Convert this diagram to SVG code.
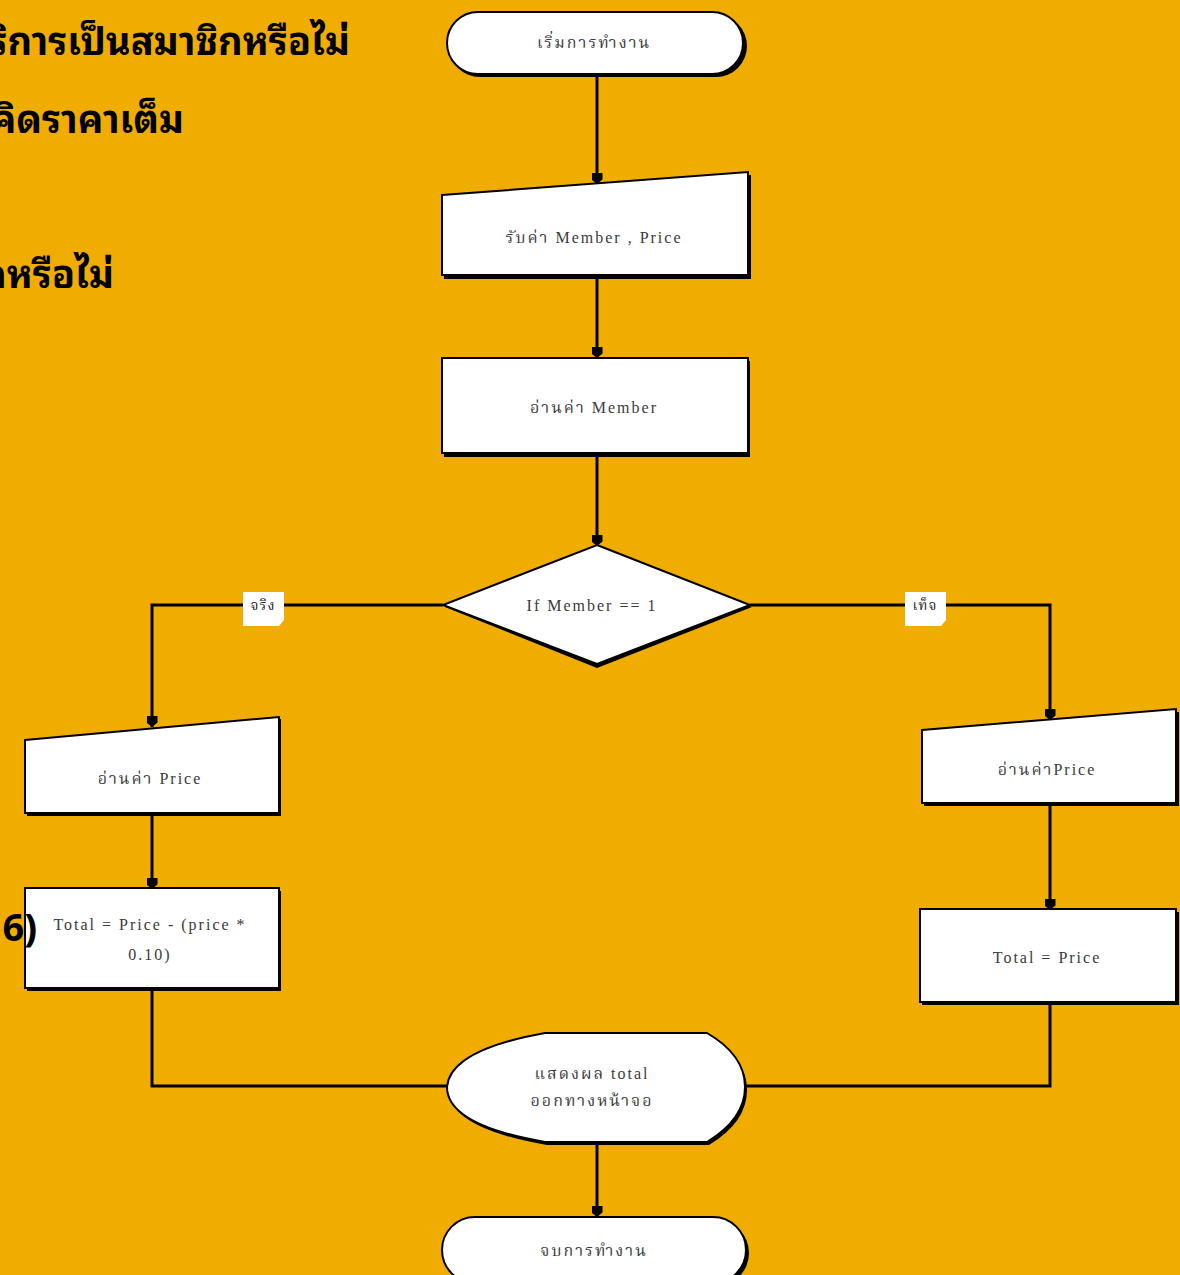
<svg xmlns="http://www.w3.org/2000/svg" width="1180" height="1275" viewBox="0 0 1180 1275">
  <defs>
    <!-- small blunt arrowhead, drawn along +x so orient="auto" turns it with the line -->
    <marker id="head" viewBox="0 0 10 10" refX="10" refY="5" markerWidth="11" markerHeight="11" markerUnits="userSpaceOnUse" orient="auto">
      <path d="M0,0 L6,0 L10,5 L6,10 L0,10 Z" fill="#000"/>
    </marker>
  </defs>
  <style>
    .bg { fill: #F0AD00; }
    .shape { fill: #fff; stroke: #000; stroke-width: 2; }
    .shadow { fill: #000; }
    .wire { fill: none; stroke: #000; stroke-width: 3; }
    .label { font-family: "Liberation Serif", "Noto Serif Thai", "Noto Sans Thai Looped", "Noto Sans Thai", serif; font-size: 16px; fill: #3a3a3a; text-anchor: middle; letter-spacing: 2px; }
    .tag { fill: #fff; }
    .tagtext { font-family: "Liberation Serif", "Noto Serif Thai", "Noto Sans Thai", serif; font-size: 14px; fill: #222; text-anchor: middle; letter-spacing: 1px; }
    .title { font-family: "Noto Sans Thai Looped", "Loma", "Garuda", "Noto Serif Thai", "Noto Sans Thai", sans-serif; font-size: 38px; font-weight: bold; fill: #000; }
  </style>

  <rect class="bg" x="0" y="0" width="1180" height="1275"/>

  <!-- heading text, partly off the left edge -->
  <g id="heading">
    <text class="title" x="350" y="55" text-anchor="end">ริการเป็นสมาชิกหรือไม่</text>
    <text class="title" x="184" y="133" text-anchor="end">คิดราคาเต็ม</text>
    <text class="title" x="114" y="288" text-anchor="end">กหรือไม่</text>
  </g>

  <!-- connectors -->
  <g id="connectors">
    <path class="wire" d="M597,76 V184" marker-end="url(#head)"/>
    <path class="wire" d="M597,278 V358" marker-end="url(#head)"/>
    <path class="wire" d="M597,456 V546" marker-end="url(#head)"/>
    <path class="wire" d="M443,605 H152 V727" marker-end="url(#head)"/>
    <path class="wire" d="M750,605 H1050 V720" marker-end="url(#head)"/>
    <path class="wire" d="M152,815 V889" marker-end="url(#head)"/>
    <path class="wire" d="M1050,805 V910" marker-end="url(#head)"/>
    <path class="wire" d="M152,990 V1086 H450"/>
    <path class="wire" d="M1050,1004 V1086 H742"/>
    <path class="wire" d="M597,1143 V1217" marker-end="url(#head)"/>
    <g id="tag-true">
      <path class="tag" d="M243,592 H284 V620 L279,626 H243 Z"/>
      <text class="tagtext" x="263" y="610">จริง</text>
    </g>
    <g id="tag-false">
      <path class="tag" d="M905,592 H946 V620 L941,626 H905 Z"/>
      <text class="tagtext" x="925" y="610">เท็จ</text>
    </g>
  </g>

  <!-- start -->
  <g id="start">
    <rect class="shadow" x="449" y="15" width="298" height="62" rx="31"/>
    <rect class="shape" x="447" y="12" width="296" height="62" rx="31"/>
    <text class="label" x="594" y="48">เริ่มการทำงาน</text>
  </g>

  <!-- input Member, Price -->
  <g id="input-member-price">
    <path class="shadow" d="M444,198 L751,175 V279 H444 Z"/>
    <path class="shape" d="M442,195 L748,172 V275 H442 Z"/>
    <text class="label" x="594" y="243">รับค่า Member , Price</text>
  </g>

  <!-- read Member -->
  <g id="read-member">
    <rect class="shadow" x="444" y="361" width="306" height="96"/>
    <rect class="shape" x="442" y="358" width="306" height="95"/>
    <text class="label" x="594" y="413">อ่านค่า Member</text>
  </g>

  <!-- decision -->
  <g id="decision">
    <path class="shadow" d="M597,548 L752,607 L597,668 L445,607 Z"/>
    <path class="shape" d="M597,545 L750,605 L597,664 L443,605 Z"/>
    <text class="label" x="592" y="611">If  Member  == 1</text>
  </g>

  <!-- read Price (true) -->
  <g id="read-price-true">
    <path class="shadow" d="M27,742 L281,719 V816 H27 Z"/>
    <path class="shape" d="M25,740 L279,717 V813 H25 Z"/>
    <text class="label" x="150" y="784">อ่านค่า Price</text>
  </g>

  <!-- discount -->
  <g id="total-discount">
    <rect class="shadow" x="27" y="891" width="254" height="100"/>
    <rect class="shape" x="25" y="888" width="254" height="100"/>
    <text class="label" x="150" y="930">Total = Price - (price *</text>
    <text class="label" x="150" y="960">0.10)</text>
  </g>

  <!-- read Price (false) -->
  <g id="read-price-false">
    <path class="shadow" d="M924,733 L1179,712 V806 H924 Z"/>
    <path class="shape" d="M922,730 L1176,709 V803 H922 Z"/>
    <text class="label" x="1047" y="775">อ่านค่าPrice</text>
  </g>

  <!-- full price -->
  <g id="total-full">
    <rect class="shadow" x="922" y="912" width="257" height="93"/>
    <rect class="shape" x="920" y="909" width="256" height="93"/>
    <text class="label" x="1047" y="963">Total = Price</text>
  </g>

  <!-- display -->
  <g id="display">
    <path class="shadow" d="M547,1036 L709,1036 Q747,1058 747,1090 Q747,1122 709,1145 L547,1145 Q449,1128 449,1090 Q452,1053 547,1036 Z"/>
    <path class="shape" d="M545,1033 L707,1033 Q745,1055 745,1087 Q745,1119 707,1142 L545,1142 Q447,1125 447,1087 Q450,1050 545,1033 Z"/>
    <text class="label" x="592" y="1079">แสดงผล total</text>
    <text class="label" x="592" y="1106">ออกทางหน้าจอ</text>
  </g>

  <!-- end -->
  <g id="end">
    <rect class="shadow" x="444" y="1220" width="305" height="66" rx="33"/>
    <rect class="shape" x="442" y="1217" width="304" height="66" rx="33"/>
    <text class="label" x="594" y="1256">จบการทำงาน</text>
  </g>

  <!-- heading fragment that sits over the discount box edge -->
  <g id="heading-number">
    <text class="title" x="37" y="941" text-anchor="end" font-size="48">6)</text>
  </g>
</svg>
